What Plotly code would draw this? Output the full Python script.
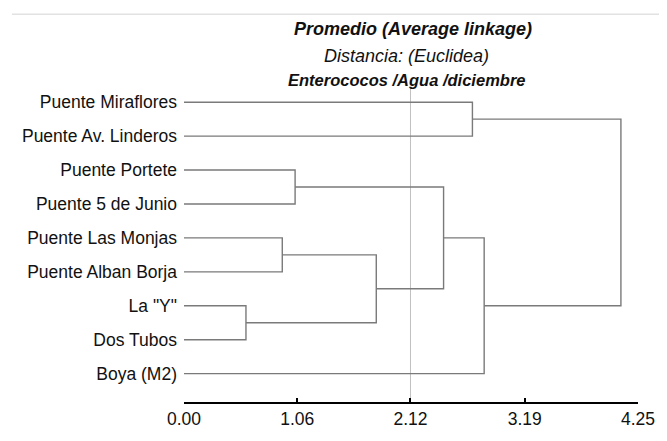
import plotly.graph_objects as go

# ---- data ----
leaf_labels = ["Puente Miraflores", "Puente Av. Linderos", "Puente Portete",
               "Puente 5 de Junio", "Puente Las Monjas", "Puente Alban Borja",
               'La "Y"', "Dos Tubos", "Boya (M2)"]
# merges: (left child, right child, height); clusters numbered from len(leaf_labels)
merge_left = [6, 4, 2, 10, 11, 0, 13, 14]
merge_right = [7, 5, 3, 9, 12, 1, 8, 15]
merge_height = [0.58, 0.92, 1.04, 1.80, 2.43, 2.70, 2.81, 4.09]
x_tickvals = [0.00, 1.06, 2.12, 3.19, 4.25]
x_ticktext = ["0.00", "1.06", "2.12", "3.19", "4.25"]
cut_distance = 2.12

title1 = "<b><i>Promedio (Average linkage)</i></b>"
title2 = "<i>Distancia: (Euclidea)</i>"
title3 = "<b><i>Enterococos /Agua /diciembre</i></b>"

# ---- build dendrogram geometry ----
n = len(leaf_labels)
pos = {i: float(i) for i in range(n)}
hgt = {i: 0.0 for i in range(n)}
xs, ys = [], []
for k, (a, b, h) in enumerate(zip(merge_left, merge_right, merge_height)):
    xs += [hgt[a], h, h, hgt[b], None]
    ys += [pos[a], pos[a], pos[b], pos[b], None]
    cid = n + k
    pos[cid] = (pos[a] + pos[b]) / 2
    hgt[cid] = h

line_color = "#7a7a7a"
fig = go.Figure()
fig.add_trace(go.Scatter(x=xs, y=ys, mode="lines",
                         line=dict(color=line_color, width=1.4),
                         hoverinfo="skip", showlegend=False))

font_family = "Liberation Sans, Arial, sans-serif"
fs = 17.5

fig.update_layout(
    width=659, height=433,
    margin=dict(l=176, r=21, t=80, b=21),
    paper_bgcolor="white", plot_bgcolor="white",
    font=dict(family=font_family, color="#111111", size=fs),
    xaxis=dict(range=[0, 4.25], tickvals=x_tickvals, ticktext=x_ticktext,
               showgrid=False, zeroline=False, showline=True,
               linecolor="black", linewidth=2, ticks="inside",
               ticklen=4, tickwidth=2, tickcolor="black",
               tickfont=dict(size=fs, family=font_family)),
    yaxis=dict(range=[8.836, -0.418], tickvals=list(range(n)),
               ticktext=leaf_labels, showgrid=False, zeroline=False,
               showline=False, ticks="", ticklabelstandoff=6,
               tickfont=dict(size=fs, family=font_family)),
    shapes=[
        dict(type="line", xref="x", yref="paper", x0=cut_distance,
             x1=cut_distance, y0=0, y1=1,
             line=dict(color="#c0c0c0", width=1), layer="below"),
        dict(type="line", xref="paper", yref="paper", x0=-0.379, x1=1.05,
             y0=1.235, y1=1.235, line=dict(color="#e2e2e2", width=1.5)),
    ],
    annotations=[
        dict(text=title1, xref="paper", yref="paper", x=0.505, y=1.187,
             showarrow=False, font=dict(size=18, family=font_family),
             xanchor="center", yanchor="middle"),
        dict(text=title2, xref="paper", yref="paper", x=0.49, y=1.102,
             showarrow=False, font=dict(size=18, family=font_family),
             xanchor="center", yanchor="middle"),
        dict(text=title3, xref="paper", yref="paper", x=0.49, y=1.027,
             showarrow=False, font=dict(size=16.5, family=font_family),
             xanchor="center", yanchor="middle"),
    ],
)

fig.write_html("out.html")
